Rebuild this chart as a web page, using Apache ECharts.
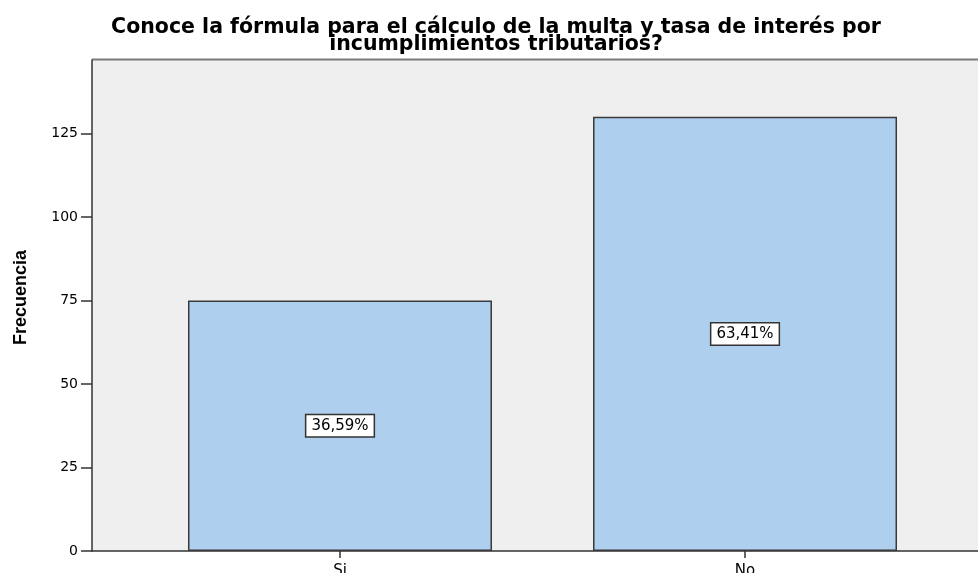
<!DOCTYPE html>
<html>
<head>
<meta charset="utf-8">
<script src="https://cdn.jsdelivr.net/npm/echarts@6/dist/echarts.min.js"></script>
<style>
html,body{margin:0;padding:0;background:#fff;}
#chart{width:978px;height:573px;}
</style>
</head>
<body>
<div id="chart"></div>
<script>
var titleText = 'Conoce la fórmula para el cálculo de la multa y tasa de interés por\nincumplimientos tributarios?';
var categories = ['Si', 'No'];
var frecuencias = [75, 130];
var porcentajes = ['36,59%', '63,41%'];
var yTicks = [0, 25, 50, 75, 100, 125];

var chart = echarts.init(document.getElementById('chart'));
var barData = categories.map(function (c, i) { return [i + 1, frecuencias[i]]; });

chart.setOption({
  animation: false,
  title: {
    text: titleText,
    left: 496,
    textAlign: 'center',
    top: 19,
    padding: 0,
    textStyle: {
      fontFamily: 'DejaVu Sans',
      fontWeight: 'bold',
      fontSize: 20.5,
      lineHeight: 17,
      color: '#000'
    }
  },
  grid: {
    left: 92,
    right: -15,
    top: 60,
    bottom: 22,
    outerBoundsMode: 'none',
    containLabel: false,
    show: true,
    backgroundColor: '#efefef',
    borderWidth: 0
  },
  xAxis: {
    type: 'value',
    min: 0.3877,
    max: 2.6123,
    splitLine: { show: false },
    axisLine: { show: true, onZero: false, lineStyle: { color: '#333', width: 1.5 } },
    axisTick: { show: true, customValues: [1, 2], length: 7, lineStyle: { color: '#333', width: 1.5 } },
    axisLabel: {
      customValues: [1, 2],
      formatter: function (v) { return categories[Math.round(v) - 1] || ''; },
      fontFamily: 'DejaVu Sans',
      fontSize: 15,
      color: '#000',
      margin: 13
    }
  },
  yAxis: {
    type: 'value',
    min: 0,
    max: 147,
    interval: 25,
    name: 'Frecuencia',
    nameLocation: 'middle',
    nameGap: 62,
    nameRotate: 90,
    nameTextStyle: {
      fontFamily: 'Liberation Sans',
      fontWeight: 'bold',
      fontSize: 18,
      color: '#000',
      padding: [0, 0, 0, 16]
    },
    splitLine: { show: false },
    axisLine: { show: true, lineStyle: { color: '#333', width: 1.5 } },
    axisTick: { show: true, length: 11, lineStyle: { color: '#333', width: 1.5 } },
    axisLabel: {
      showMaxLabel: false,
      fontFamily: 'DejaVu Sans',
      fontSize: 14,
      color: '#000',
      margin: 14
    }
  },
  graphic: [{
    type: 'line',
    shape: { x1: 92, y1: 59.5, x2: 978, y2: 59.5 },
    style: { stroke: '#7a7a7a', lineWidth: 2 }
  }],
  series: [{
    type: 'bar',
    data: barData,
    barWidth: 304,
    itemStyle: {
      color: '#aecfed',
      borderColor: '#3a3a3a',
      borderWidth: 1.5
    },
    label: {
      show: true,
      position: 'inside',
      formatter: function (p) { return porcentajes[p.dataIndex]; },
      fontFamily: 'DejaVu Sans',
      fontSize: 15,
      color: '#000',
      backgroundColor: '#fff',
      borderColor: '#333',
      borderWidth: 1.5,
      padding: [4, 5, 2, 5]
    }
  }]
});
</script>
</body>
</html>
